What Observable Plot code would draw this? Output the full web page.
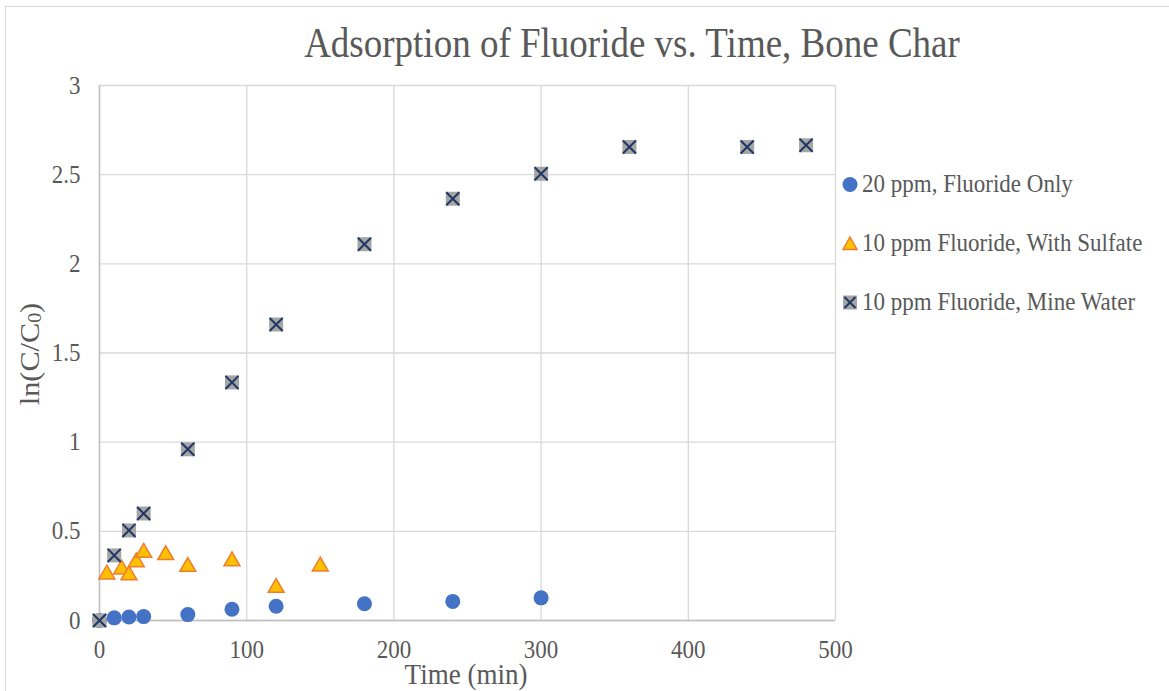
<!DOCTYPE html>
<html><head><meta charset="utf-8">
<script src="https://cdn.jsdelivr.net/npm/d3@7"></script>
<script src="https://cdn.jsdelivr.net/npm/@observablehq/plot@0.6"></script>
<style>
html,body{margin:0;padding:0;background:#fff;overflow:hidden}
#wrap{position:relative;width:1169px;height:691px;overflow:hidden;font-family:"Liberation Serif","Times New Roman",serif;color:#595959}
#frame{position:absolute;left:5px;top:6px;width:1300px;height:800px;border:1px solid #d9d9d9;box-sizing:border-box}
#chart{position:absolute;left:0;top:0}
.lbl{position:absolute;white-space:nowrap;line-height:1;font-family:"Liberation Serif","Times New Roman",serif}
#title{left:632px;top:24px;font-size:37px;transform:translateX(-50%) scaleY(1.13)}
#xlab{left:466px;top:661px;font-size:27px;transform:translateX(-50%) scaleY(1.12)}
#ylab{left:31px;top:354px;font-size:27px;transform:translate(-50%,-50%) rotate(-90deg) scaleX(1.12)}
#ylab sub{font-size:0.66em;vertical-align:-0.12em}
.leg{position:absolute;left:842px;display:flex;align-items:center;font-size:23px;white-space:nowrap;line-height:1;transform:translateY(-50%);font-family:"Liberation Serif","Times New Roman",serif}
.leg svg{margin-right:4px}
.leg span{display:inline-block;transform:scaleY(1.12)}
</style></head><body><div id="wrap"><div id="frame"></div><div id="chart"></div></div>
<script>
// Series names
const seriesNames = ["20 ppm, Fluoride Only", "10 ppm Fluoride, With Sulfate", "10 ppm Fluoride, Mine Water"];
// 20 ppm, Fluoride Only
const fluorideTime = [0, 10, 20, 30, 60, 90, 120, 180, 240, 300];
const fluorideVals = [0, 0.015, 0.02, 0.022, 0.033, 0.063, 0.08, 0.094, 0.107, 0.127];
// 10 ppm Fluoride, With Sulfate
const sulfateTime = [5, 15, 20, 25, 30, 45, 60, 90, 120, 150];
const sulfateVals = [0.271, 0.299, 0.266, 0.340, 0.393, 0.380, 0.314, 0.345, 0.196, 0.316];
// 10 ppm Fluoride, Mine Water
const mineTime = [0, 10, 20, 30, 60, 90, 120, 180, 240, 300, 360, 440, 480];
const mineVals = [0, 0.365, 0.505, 0.6, 0.96, 1.335, 1.66, 2.11, 2.365, 2.505, 2.655, 2.655, 2.665];
// Axis ticks
const xTicks = [0, 100, 200, 300, 400, 500];
const yTicks = [0, 0.5, 1, 1.5, 2, 2.5, 3];

const toRows = (ts, vs, s) => ts.map((t, i) => ({time: t, value: vs[i], series: s}));
const fluoride = toRows(fluorideTime, fluorideVals, seriesNames[0]);
const sulfate = toRows(sulfateTime, sulfateVals, seriesNames[1]);
const mine = toRows(mineTime, mineVals, seriesNames[2]);

const colors = {blue: "#4472C4", gold: "#FFC000", orange: "#ED7D31", gray: "#A5A5A5", navy: "#1F3864", grid: "#d9d9d9", axis: "#bfbfbf"};

const chart = Plot.plot({
  width: 1169, height: 691,
  marginLeft: 99, marginRight: 334, marginTop: 85, marginBottom: 71,
  style: {fontFamily: '"Liberation Serif","Times New Roman",serif', fontSize: "23px", color: "#595959", background: "transparent", overflow: "visible"},
  x: {domain: [0, 500], ticks: xTicks, tickSize: 0, tickPadding: 20, label: null, tickFormat: d => String(d)},
  y: {domain: [0, 3], ticks: yTicks, tickSize: 0, tickPadding: 19, label: null, tickFormat: d => String(d)},
  marks: [
    Plot.ruleX(xTicks, {stroke: colors.grid, strokeWidth: 1.3}),
    Plot.ruleY(yTicks, {stroke: colors.grid, strokeWidth: 1.3}),
    Plot.ruleX([0], {stroke: colors.axis, strokeWidth: 1.5}),
    Plot.ruleY([0], {stroke: colors.axis, strokeWidth: 1.5}),
    Plot.dot(fluoride, {x: "time", y: "value", symbol: "circle", r: 7.5, fill: colors.blue}),
    Plot.dot(sulfate, {x: "time", y: "value", symbol: "triangle", r: 5.9, fill: colors.gold, stroke: colors.orange, strokeWidth: 1.5, dy: 2.2}),
    Plot.dot(mine, {x: "time", y: "value", symbol: "square", r: 7.9, fill: colors.gray}),
    Plot.dot(mine, {x: "time", y: "value", symbol: "times", r: 6, stroke: colors.navy, strokeWidth: 2, fill: "none"})
  ]
});
document.getElementById("chart").appendChild(chart);

// Slight vertical stretch of tick labels, about each label's own centre
chart.querySelectorAll("text").forEach(t => {
  try {
    const b = t.getBBox();
    const cy = b.y + b.height / 2;
    const prev = t.getAttribute("transform") || "";
    t.setAttribute("transform", `${prev} translate(0,${cy}) scale(1,1.1) translate(0,${-cy})`.trim());
  } catch (e) {}
});

const wrap = document.getElementById("wrap");
function addLabel(id, html) {
  const d = document.createElement("div");
  d.className = "lbl"; d.id = id; d.innerHTML = html;
  wrap.appendChild(d);
}
addLabel("title", "Adsorption of Fluoride vs. Time, Bone Char");
addLabel("xlab", "Time (min)");
addLabel("ylab", "ln(C/C<sub>0</sub>)");

// Legend
const legendY = [184, 243, 302];
const swatches = [
  `<circle cx="8" cy="8" r="7.5" fill="${colors.blue}"/>`,
  `<path d="M8,1.5 L15,14 L1,14 Z" fill="${colors.gold}" stroke="${colors.orange}" stroke-width="1.5"/>`,
  `<rect x="1" y="1" width="14" height="14" fill="${colors.gray}"/><path d="M2.5,2.5 L13.5,13.5 M2.5,13.5 L13.5,2.5" stroke="${colors.navy}" stroke-width="2"/>`
];
seriesNames.forEach((name, i) => {
  const d = document.createElement("div");
  d.className = "leg";
  d.style.top = legendY[i] + "px";
  d.innerHTML = `<svg width="16" height="16" viewBox="0 0 16 16">${swatches[i]}</svg><span>${name}</span>`;
  wrap.appendChild(d);
});
</script></body></html>
